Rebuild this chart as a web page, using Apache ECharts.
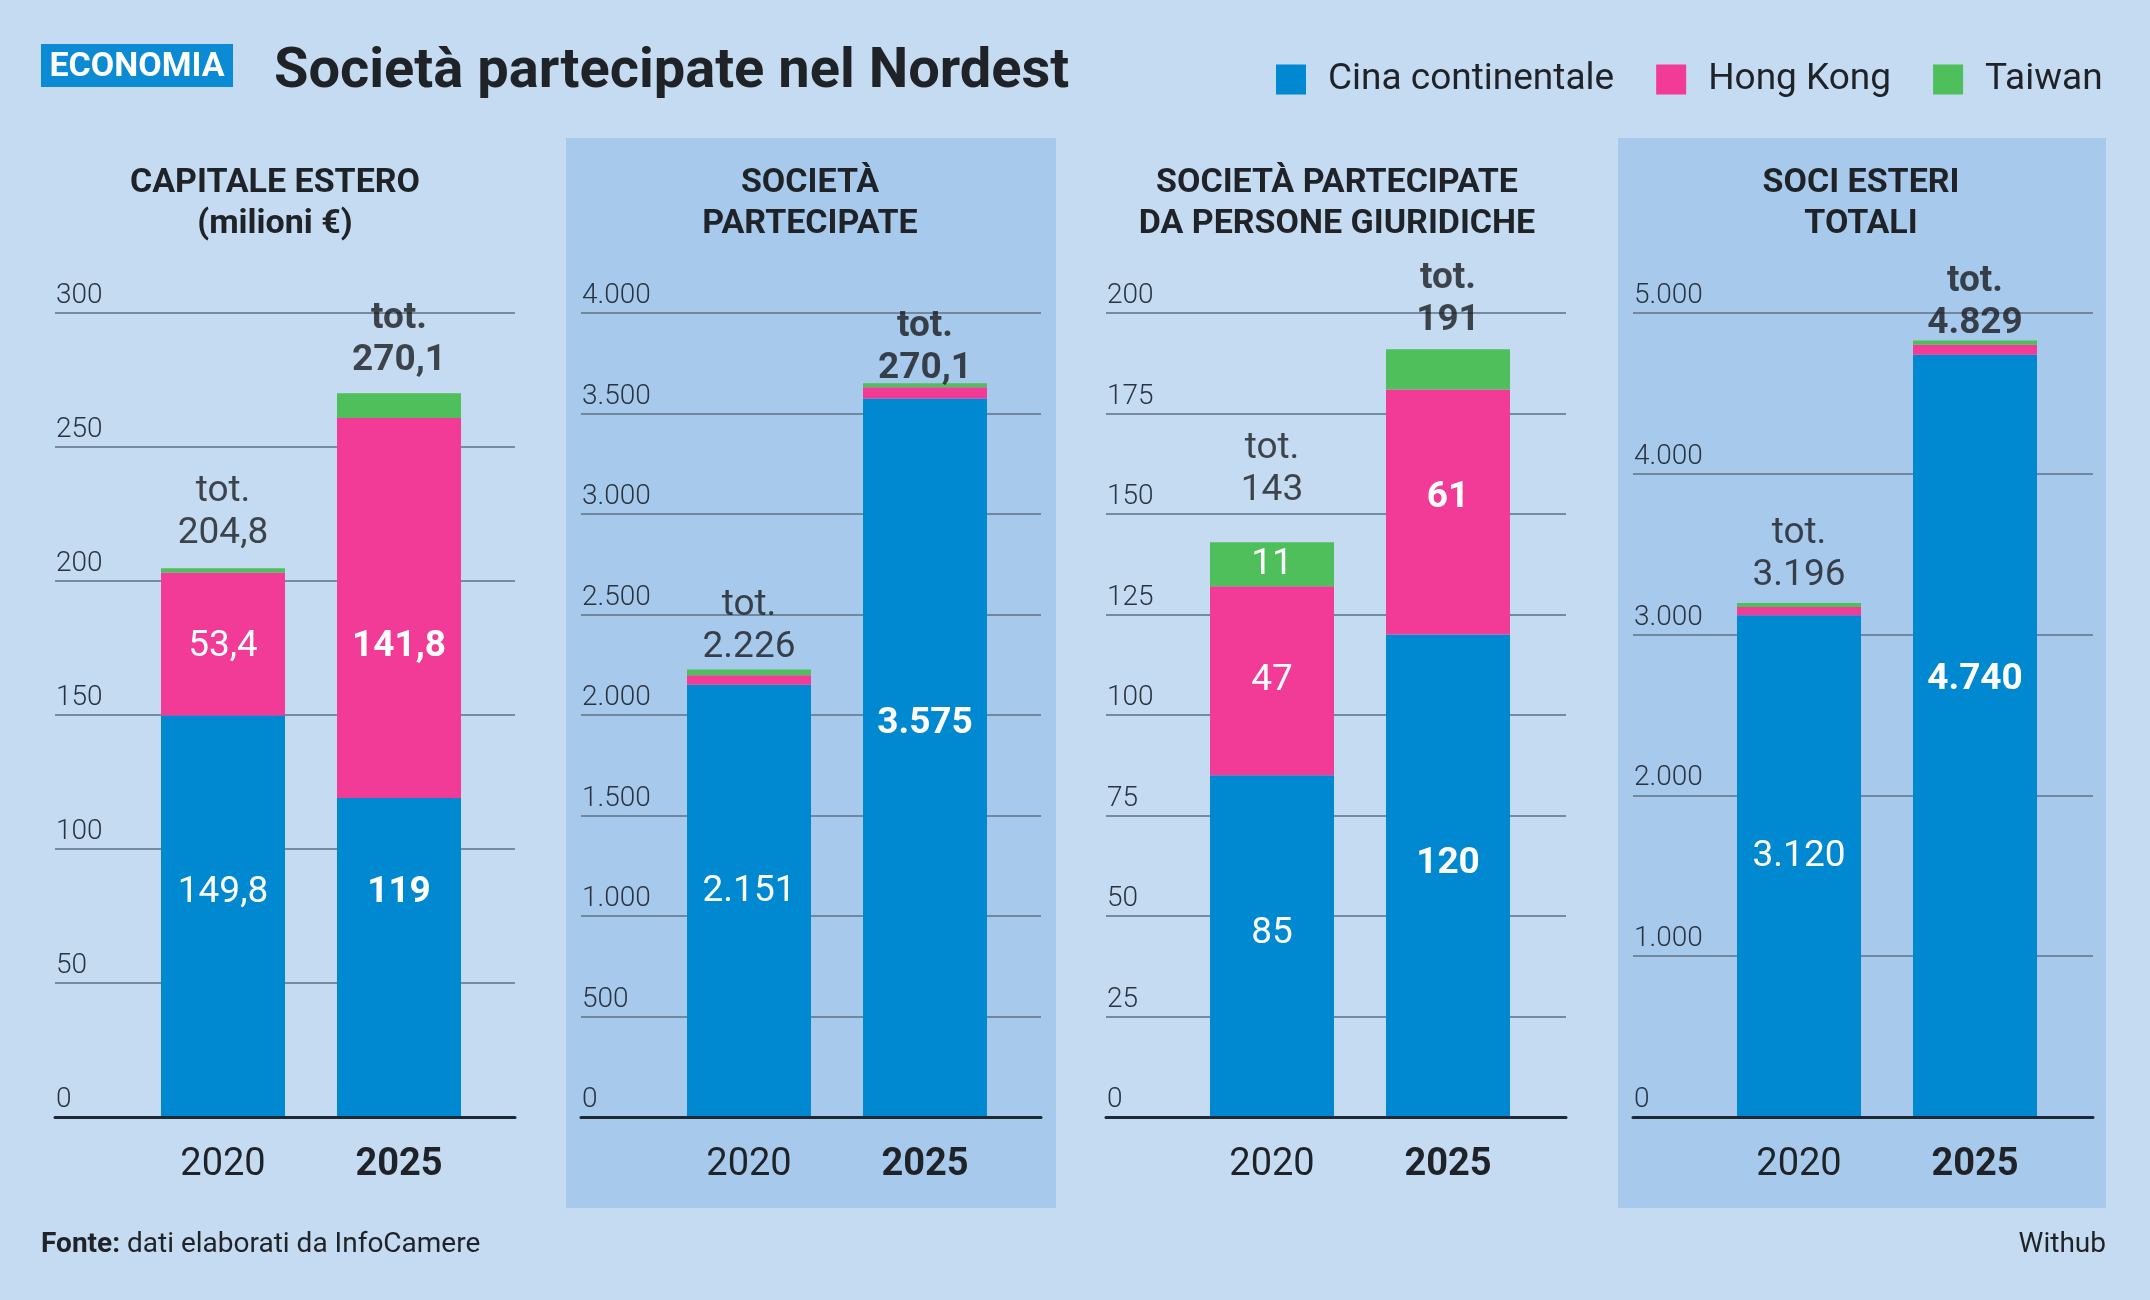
<!DOCTYPE html>
<html lang="it">
<head>
<meta charset="utf-8" />
<title>Società partecipate nel Nordest</title>
<script src="https://cdn.jsdelivr.net/npm/echarts@6.0.0/dist/echarts.min.js"></script>
<style>
  html, body { margin: 0; padding: 0; background: #c4dbf2; }
  #chart { width: 2150px; height: 1300px; }
</style>
</head>
<body>
<div id="chart"></div>
<script>
// ---- dati ----
const years = ['2020', '2025'];
const seriesNames = ['Cina continentale', 'Hong Kong', 'Taiwan'];

// capitale estero (milioni €)
const capitaleCina = [149.8, 119];
const capitaleHK = [53.4, 141.8];
const capitaleTW = [1.6, 9.3];
const capitaleTot = ['204,8', '270,1'];

// società partecipate
const societaCina = [2151, 3575];
const societaHK = [47, 55];
const societaTW = [28, 20];
const societaTot = ['2.226', '270,1'];

// società partecipate da persone giuridiche
const giuridicheCina = [85, 120];
const giuridicheHK = [47, 61];
const giuridicheTW = [11, 10];
const giuridicheTot = ['143', '191'];

// soci esteri totali
const sociCina = [3120, 4740];
const sociHK = [51, 62];
const sociTW = [25, 27];
const sociTot = ['3.196', '4.829'];

const colors = ['#0089d1', '#f23b97', '#4ebf5b'];
const FONT = 'Roboto, "Noto Sans", sans-serif';

// formato italiano: 2151 -> 2.151, 149.8 -> 149,8
function fmt(v) {
  const parts = String(v).split('.');
  const int = parts[0].replace(/\B(?=(\d{3})+(?!\d))/g, '.');
  return parts[1] ? int + ',' + parts[1] : int;
}

// layout dei quattro pannelli
const panels = [
  {
    title: 'CAPITALE ESTERO\n(milioni €)', cx: 275, gl: 55, mid: 311,
    max: 300, interval: 50,
    values: [capitaleCina, capitaleHK, capitaleTW], tot: capitaleTot,
    show: [[1, 1], [1, 1], [0, 0]],
    nudge: [[-24, -65], [3, 39], [0, 0]],
    totLift: [2, 0]
  },
  {
    title: 'SOCIETÀ\nPARTECIPATE', cx: 810, gl: 581, mid: 837,
    max: 4000, interval: 500,
    values: [societaCina, societaHK, societaTW], tot: societaTot,
    show: [[1, 1], [0, 0], [0, 0]],
    nudge: [[-9, -34], [0, 0], [0, 0]],
    totLift: [-11, -18]
  },
  {
    title: 'SOCIETÀ PARTECIPATE\nDA PERSONE GIURIDICHE', cx: 1337, gl: 1106, mid: 1360,
    max: 200, interval: 25,
    values: [giuridicheCina, giuridicheHK, giuridicheTW], tot: giuridicheTot,
    show: [[1, 1], [1, 1], [1, 0]],
    nudge: [[-12, -12], [0, -14], [0, 0]],
    totLift: [19, -4]
  },
  {
    title: 'SOCI ESTERI\nTOTALI', cx: 1861, gl: 1633, mid: 1887,
    max: 5000, interval: 1000,
    values: [sociCina, sociHK, sociTW], tot: sociTot,
    show: [[1, 1], [0, 0], [0, 0]],
    nudge: [[-9, -56], [0, 0], [0, 0]],
    totLift: [-5, -16]
  }
];

const GRID_TOP = 313;
const GRID_H = 804;
const GRID_W = 460;
const BAND = 176;

const grid = [];
const xAxis = [];
const yAxis = [];
const series = [];

panels.forEach(function (p, k) {
  // griglia di sfondo: linee e tacche
  grid.push({ left: p.gl, top: GRID_TOP, width: GRID_W, height: GRID_H });
  // griglia delle barre
  grid.push({ left: p.mid - BAND, top: GRID_TOP, width: BAND * 2, height: GRID_H });
  const gBg = 2 * k, gBar = 2 * k + 1;

  xAxis.push({
    gridIndex: gBg, type: 'value', min: 0, max: 1, z: 5,
    axisLine: { show: true, lineStyle: { color: '#1d2935', width: 3 } },
    axisTick: { show: false }, axisLabel: { show: false }, splitLine: { show: false }
  });
  yAxis.push({
    gridIndex: gBg, type: 'value', min: 0, max: p.max, interval: p.interval,
    axisLine: { show: false }, axisTick: { show: false },
    splitLine: { lineStyle: { color: '#5d7086', width: 1.5 } },
    axisLabel: {
      inside: true, margin: 1, verticalAlign: 'bottom', padding: [0, 0, 3, 0],
      color: '#2a3440', fontFamily: FONT, fontWeight: 300, fontSize: 28,
      formatter: fmt
    }
  });

  xAxis.push({
    gridIndex: gBar, type: 'category', data: years,
    axisLine: { show: false }, axisTick: { show: false },
    axisLabel: {
      margin: 29,
      formatter: function (v, i) { return i === 1 ? '{b|' + v + '}' : '{r|' + v + '}'; },
      rich: {
        r: { fontFamily: FONT, fontSize: 38, color: '#1f2328' },
        b: { fontFamily: FONT, fontSize: 38, fontWeight: 'bold', color: '#1f2328' }
      }
    }
  });
  yAxis.push({ gridIndex: gBar, type: 'value', min: 0, max: p.max, interval: p.interval, show: false });

  p.values.forEach(function (vals, s) {
    series.push({
      name: seriesNames[s], type: 'bar', stack: 'p' + k,
      xAxisIndex: gBar, yAxisIndex: gBar,
      barWidth: 124, itemStyle: { color: colors[s] },
      silent: true,
      data: vals.map(function (v, i) {
        return {
          value: v,
          label: {
            show: !!p.show[s][i], position: 'inside',
            offset: [0, p.nudge[s][i]],
            formatter: fmt(v),
            color: '#ffffff', fontFamily: FONT, fontSize: 37,
            fontWeight: i === 1 ? 'bold' : 'normal'
          }
        };
      })
    });
  });

  // etichette "tot." sopra le barre
  series.push({
    name: 'tot', type: 'scatter', xAxisIndex: gBar, yAxisIndex: gBar,
    symbolSize: 1, itemStyle: { color: 'rgba(0,0,0,0)' }, silent: true, z: 4,
    data: years.map(function (y, i) {
      const top = p.values[0][i] + p.values[1][i] + p.values[2][i];
      const key = i === 1 ? 'b' : 'r';
      return {
        value: top,
        label: {
          show: true, position: 'top', distance: 11,
          offset: [0, -p.totLift[i]],
          formatter: '{' + key + '|tot.}\n{' + key + '|' + p.tot[i] + '}',
          rich: {
            r: { fontFamily: FONT, fontSize: 37, lineHeight: 42, color: '#1a1d21' },
            b: { fontFamily: FONT, fontSize: 37, lineHeight: 42, fontWeight: 'bold', color: '#1a1d21' }
          }
        }
      };
    })
  });
});

const graphic = [
  // pannelli ombreggiati
  { type: 'rect', z: -10, shape: { x: 566, y: 138, width: 490, height: 1070 }, style: { fill: '#a7c9eb' } },
  { type: 'rect', z: -10, shape: { x: 1618, y: 138, width: 488, height: 1070 }, style: { fill: '#a7c9eb' } },
  // testata
  { type: 'rect', shape: { x: 41, y: 44, width: 192, height: 43 }, style: { fill: '#0a8bd3' } },
  {
    type: 'text', x: 137, y: 67,
    style: { text: 'ECONOMIA', fill: '#ffffff', font: 'bold 34px ' + FONT, textAlign: 'center', textVerticalAlign: 'middle' }
  },
  {
    type: 'text', x: 274, y: 73,
    style: { text: 'Società partecipate nel Nordest', fill: '#1f2226', font: 'bold 56px ' + FONT, textVerticalAlign: 'middle' }
  },
  // fonte
  {
    type: 'text', x: 41, y: 1245,
    style: {
      text: '{b|Fonte:} dati elaborati da InfoCamere', fill: '#1f2328',
      font: '28px ' + FONT, textVerticalAlign: 'middle',
      rich: { b: { fontWeight: 'bold', fontSize: 28, fontFamily: FONT, fill: '#1f2328' } }
    }
  },
  {
    type: 'text', x: 2106, y: 1245,
    style: { text: 'Withub', fill: '#1f2328', font: '28px ' + FONT, textAlign: 'right', textVerticalAlign: 'middle' }
  }
];

panels.forEach(function (p) {
  graphic.push({
    type: 'text', x: p.cx, y: 204,
    style: {
      text: p.title, fill: '#1f2226', font: 'bold 34px ' + FONT,
      lineHeight: 41, textAlign: 'center', textVerticalAlign: 'middle'
    }
  });
});

const chart = echarts.init(document.getElementById('chart'));
chart.setOption({
  backgroundColor: '#c4dbf2',
  animation: false,
  legend: {
    data: seriesNames, left: 1271, top: 56,
    icon: 'rect', itemWidth: 30, itemHeight: 30, itemGap: 42,
    selectedMode: false,
    textStyle: { fontFamily: FONT, fontSize: 37, color: '#1f2328', padding: [0, 0, 0, 17] }
  },
  grid: grid,
  xAxis: xAxis,
  yAxis: yAxis,
  series: series,
  graphic: graphic
});
window.onresize = function () { chart.resize(); };
</script>
</body>
</html>
